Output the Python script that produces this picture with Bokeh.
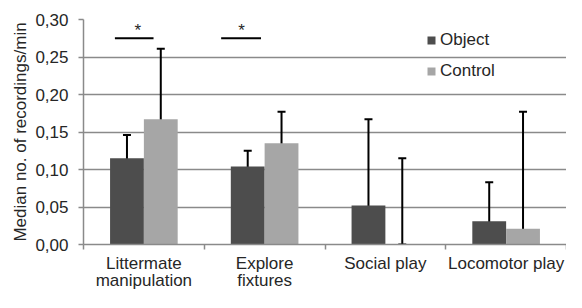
from bokeh.plotting import figure
from bokeh.models import Range1d, FixedTicker, Whisker, TeeHead, ColumnDataSource, Legend, LegendItem
from bokeh.core.properties import value
from bokeh.embed import file_html
from bokeh.resources import INLINE

categories = ["Littermate\nmanipulation", "Explore\nfixtures", "Social play", "Locomotor play"]
object_median = [0.115, 0.104, 0.052, 0.031]
object_low = [0.073, 0.062, 0.021, 0.000]
object_high = [0.146, 0.125, 0.167, 0.083]
control_median = [0.167, 0.135, 0.000, 0.021]
control_low = [0.115, 0.083, 0.000, 0.010]
control_high = [0.261, 0.177, 0.115, 0.177]
y_ticks = [0.00, 0.05, 0.10, 0.15, 0.20, 0.25, 0.30]
y_tick_labels = ["0,00", "0,05", "0,10", "0,15", "0,20", "0,25", "0,30"]
sig_categories = [0, 1]
sig_level = [0.275, 0.275]

FONT = "Liberation Sans"
TXT = "#262626"
GRID = "#8a8a8a"
C_OBJ = "#4d4d4d"
C_CTL = "#a6a6a6"
BW = 0.28

n = len(categories)
centers = [i + 0.5 for i in range(n)]
x_obj = [c - BW / 2 for c in centers]
x_ctl = [c + BW / 2 for c in centers]

p = figure(width=566, height=292, output_backend="svg", toolbar_location=None,
           x_range=Range1d(0, n), y_range=Range1d(0, 0.30),
           min_border_left=83, min_border_right=0, min_border_top=19, min_border_bottom=44)
p.outline_line_color = None
p.background_fill_color = "white"
p.border_fill_color = "white"

src_o = ColumnDataSource(dict(x=x_obj, top=object_median, lo=object_low, hi=object_high))
src_c = ColumnDataSource(dict(x=x_ctl, top=control_median, lo=control_low, hi=control_high))

r_o = p.vbar(x="x", top="top", width=BW, source=src_o, fill_color=C_OBJ, line_color=None)
r_c = p.vbar(x="x", top="top", width=BW, source=src_c, fill_color=C_CTL, line_color=None)

for src in (src_o, src_c):
    w = Whisker(base="x", upper="hi", lower="lo", source=src, line_color="black", line_width=2,
                upper_head=TeeHead(size=8, line_color="black", line_width=2),
                lower_head=TeeHead(size=8, line_color="black", line_width=2))
    p.add_layout(w)

# significance markers
sig_x0 = [sig_categories[0] + 0.26, sig_categories[1] + 0.14]
sig_x1 = [sig_categories[0] + 0.58, sig_categories[1] + 0.47]
sig_xm = [sig_categories[0] + 0.45, sig_categories[1] + 0.31]
p.segment(x0=sig_x0, y0=sig_level, x1=sig_x1, y1=sig_level, line_color="black", line_width=2)
p.text(x=sig_xm, y=[v + 0.010 for v in sig_level], text=["*", "*"], text_font=value(FONT),
       text_font_size="17px", text_align="center", text_baseline="middle", text_color=TXT)

# axes
p.yaxis.ticker = FixedTicker(ticks=y_ticks)
p.yaxis.major_label_overrides = {t: l for t, l in zip(y_ticks, y_tick_labels)}
p.yaxis.axis_label = "Median no. of recordings/min"
p.yaxis.axis_label_text_font = FONT
p.yaxis.axis_label_text_font_size = "17px"
p.yaxis.axis_label_text_font_style = "normal"
p.yaxis.axis_label_text_color = TXT
p.yaxis.axis_label_standoff = 2
p.yaxis.major_label_text_font = FONT
p.yaxis.major_label_text_font_size = "17px"
p.yaxis.major_label_text_color = TXT
p.yaxis.major_label_standoff = 10
p.yaxis.axis_line_color = GRID
p.yaxis.axis_line_width = 1.5
p.yaxis.major_tick_line_color = GRID
p.yaxis.major_tick_line_width = 1.5
p.yaxis.major_tick_out = 5
p.yaxis.major_tick_in = 0
p.yaxis.minor_tick_line_color = None

p.xaxis.ticker = FixedTicker(ticks=centers, minor_ticks=list(range(n + 1)))
p.xaxis.major_label_overrides = {c: l for c, l in zip(centers, categories)}
p.xaxis.major_label_text_font = FONT
p.xaxis.major_label_text_font_size = "17px"
p.xaxis.major_label_text_line_height = 0.92
p.xaxis.major_label_text_color = TXT
p.xaxis.major_label_standoff = 3
p.xaxis.major_tick_line_color = None
p.xaxis.minor_tick_line_color = GRID
p.xaxis.minor_tick_line_width = 1.5
p.xaxis.minor_tick_out = 5
p.xaxis.minor_tick_in = 0
p.xaxis.axis_line_color = GRID
p.xaxis.axis_line_width = 1.5

p.xgrid.grid_line_color = None
p.ygrid.grid_line_color = GRID
p.ygrid.grid_line_width = 1.5

legend = Legend(items=[LegendItem(label="Object", renderers=[r_o]),
                       LegendItem(label="Control", renderers=[r_c])],
                location=(343, 163), orientation="vertical",
                label_text_font=FONT, label_text_font_size="17px", label_text_color=TXT,
                glyph_width=10, glyph_height=10, label_height=20, spacing=11,
                label_standoff=4, padding=0, margin=0,
                border_line_color=None, background_fill_alpha=0)
p.add_layout(legend)

open("out.html", "w").write(file_html(p, INLINE))
